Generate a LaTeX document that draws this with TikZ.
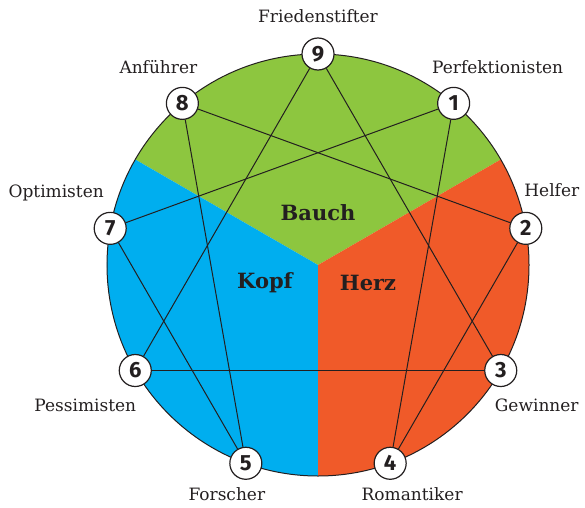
\documentclass[tikz,border=0pt]{standalone}
\usepackage{fontspec}
\setmainfont{DejaVu Serif}
\newfontfamily\ziffer{Fira Sans}
\usetikzlibrary{positioning}

\definecolor{bauch}{RGB}{141,198,63}
\definecolor{kopf}{RGB}{0,174,239}
\definecolor{herz}{RGB}{240,90,41}
\definecolor{tinte}{RGB}{35,31,32}

\begin{document}
\begin{tikzpicture}[x=1pt, y=1pt, on grid,
    typ/.style={circle, draw=tinte, fill=white, line width=1.2pt, minimum size=32pt, inner sep=0pt,
        font=\ziffer\bfseries\fontsize{22}{22}\selectfont, text=tinte},
    etikett/.style={font=\fontsize{17}{17}\selectfont, text=tinte},
    zentrum/.style={font=\bfseries\fontsize{21}{21}\selectfont, text=tinte}]
    \useasboundingbox (0,0) rectangle (585,507);
    \coordinate (c) at (318,242);

    % Bauch, Herz, Kopf
    \fill[bauch] (c) -- ++(30:211) arc[start angle=30, end angle=150, radius=211] -- cycle;
    \fill[kopf] (c) -- ++(150:211) arc[start angle=150, end angle=270, radius=211] -- cycle;
    \fill[herz] (c) -- ++(270:211) arc[start angle=270, end angle=390, radius=211] -- cycle;
    \draw[tinte, line width=1pt] (c) circle[radius=211];

    \foreach \n/\w in {9/90, 1/50, 2/10, 3/-30, 4/-70, 5/-110, 6/-150, 7/170, 8/130}
        \node[typ] (p\n) at ([shift={(\w:211)}]c) {\n};

    \node[zentrum] (bauch) [above=52pt of c, anchor=center] {Bauch};
    \node[zentrum] (kopf) [below left=18pt and 53pt of c, anchor=center] {Kopf};
    \node[zentrum] (herz) [below right=18pt and 50pt of c, anchor=center] {Herz};

    \node[etikett] (l9) [above=38pt of p9] {Friedenstifter};
    \node[etikett] (l1) [above right=36pt and 44pt of p1] {Perfektionisten};
    \node[etikett] (l2) [above right=38pt and 26pt of p2] {Helfer};
    \node[etikett] (l3) [below right=35pt and 36pt of p3] {Gewinner};
    \node[etikett] (l4) [below right=31pt and 22pt of p4] {Romantiker};
    \node[etikett] (l5) [below left=31pt and 19pt of p5] {Forscher};
    \node[etikett] (l6) [below left=35pt and 50pt of p6] {Pessimisten};
    \node[etikett] (l7) [above left=35pt and 54pt of p7] {Optimisten};
    \node[etikett] (l8) [above left=36pt and 24pt of p8] {Anführer};

    \path[every edge/.style={draw=tinte, line width=1pt}]
        (p9) edge (p3)
             edge (p6)
        (p3) edge (p6)
        (p1) edge (p4)
             edge (p7)
        (p4) edge (p2)
        (p2) edge (p8)
        (p8) edge (p5)
        (p5) edge (p7);
\end{tikzpicture}
\end{document}
